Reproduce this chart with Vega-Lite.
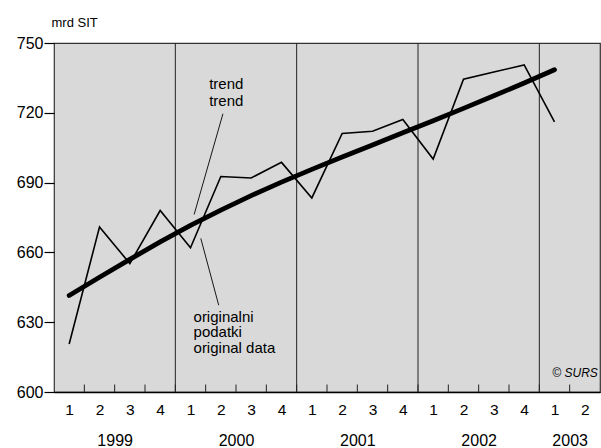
{
  "$schema": "https://vega.github.io/schema/vega-lite/v6.json",
  "width": 546,
  "height": 349,
  "autosize": "none",
  "padding": {"left": 54, "top": 43, "right": 1, "bottom": 56},
  "config": {
    "view": {"fill": "#d9d9d9", "stroke": "#333333", "strokeWidth": 1.2},
    "font": "Liberation Sans"
  },
  "datasets": {
    "series": [
      {"t": 0.5, "orig": 620.6, "trend": 641.5},
      {"t": 1.5, "orig": 670.9, "trend": 649.3},
      {"t": 2.5, "orig": 655.2, "trend": 657.0},
      {"t": 3.5, "orig": 678.0, "trend": 664.5},
      {"t": 4.5, "orig": 662.0, "trend": 671.6},
      {"t": 5.5, "orig": 692.6, "trend": 678.2},
      {"t": 6.5, "orig": 692.0, "trend": 684.4},
      {"t": 7.5, "orig": 698.7, "trend": 690.2},
      {"t": 8.5, "orig": 683.4, "trend": 695.7},
      {"t": 9.5, "orig": 711.1, "trend": 701.0},
      {"t": 10.5, "orig": 712.1, "trend": 706.2},
      {"t": 11.5, "orig": 717.1, "trend": 711.4},
      {"t": 12.5, "orig": 700.1, "trend": 716.6},
      {"t": 13.5, "orig": 734.4, "trend": 721.9},
      {"t": 14.5, "orig": 737.5, "trend": 727.3},
      {"t": 15.5, "orig": 740.6, "trend": 732.8},
      {"t": 16.5, "orig": 716.1, "trend": 738.5}
    ],
    "years": [{"b": 4}, {"b": 8}, {"b": 12}, {"b": 16}],
    "ticks": [
      {"b": 1}, {"b": 2}, {"b": 3}, {"b": 4}, {"b": 5}, {"b": 6}, {"b": 7}, {"b": 8}, {"b": 9},
      {"b": 10}, {"b": 11}, {"b": 12}, {"b": 13}, {"b": 14}, {"b": 15}, {"b": 16}, {"b": 17}
    ],
    "leaders": [
      {"x1": 5.57, "y1": 719.6, "x2": 4.62, "y2": 676.3},
      {"x1": 4.84, "y1": 666.0, "x2": 5.43, "y2": 637.3}
    ],
    "trendLabels": [
      {"t": 5.68, "v": 732.4, "label": "trend"},
      {"t": 5.68, "v": 725.1, "label": "trend"}
    ],
    "origLabels": [
      {"t": 4.6, "v": 632.4, "label": "originalni"},
      {"t": 4.6, "v": 625.6, "label": "podatki"},
      {"t": 4.6, "v": 619.0, "label": "original data"}
    ],
    "credit": [{"t": 17.93, "v": 608, "label": "© SURS"}]
  },
  "layer": [
    {
      "data": {"name": "years"},
      "mark": {"type": "rule", "color": "#222222", "strokeWidth": 1},
      "encoding": {
        "x": {
          "field": "b", "type": "quantitative",
          "scale": {"domain": [0, 18], "nice": false, "zero": false},
          "axis": {
            "orient": "bottom", "title": null, "values": [2, 6, 10, 14, 17],
            "labelExpr": "'' + (1999 + floor(datum.value / 4))",
            "domain": false, "ticks": false, "grid": false,
            "labelPadding": 40, "labelFontSize": 16, "labelColor": "#000000",
            "labelFont": "Liberation Sans"
          }
        },
        "y": {"datum": 600, "type": "quantitative", "scale": {"domain": [600, 750], "nice": false, "zero": false}},
        "y2": {"datum": 750}
      }
    },
    {
      "data": {"name": "ticks"},
      "mark": {"type": "rule", "color": "#222222", "strokeWidth": 1},
      "encoding": {
        "x": {"field": "b", "type": "quantitative", "axis": null},
        "y": {"datum": 600, "type": "quantitative"},
        "y2": {"datum": 603.2}
      }
    },
    {
      "data": {"name": "series"},
      "mark": {"type": "line", "color": "#000000", "strokeWidth": 1.6},
      "encoding": {
        "x": {
          "field": "t", "type": "quantitative",
          "axis": {
            "orient": "bottom", "title": null,
            "values": [0.5, 1.5, 2.5, 3.5, 4.5, 5.5, 6.5, 7.5, 8.5, 9.5, 10.5, 11.5, 12.5, 13.5, 14.5, 15.5, 16.5, 17.5],
            "labelExpr": "'' + ((floor(datum.value) % 4) + 1)",
            "ticks": false, "grid": false, "domain": true, "domainColor": "#000000", "domainWidth": 1.5,
            "labelPadding": 10, "labelFontSize": 15.5, "labelColor": "#000000",
            "labelFont": "Liberation Sans"
          }
        },
        "y": {
          "field": "orig", "type": "quantitative",
          "axis": {
            "title": "mrd SIT", "titleAngle": 0, "titleAlign": "left", "titleBaseline": "alphabetic",
            "titleX": -3, "titleY": -17, "titleFontSize": 13, "titleFontWeight": "normal", "titleColor": "#000000",
            "values": [600, 630, 660, 690, 720, 750], "grid": false, "domain": false,
            "tickSize": 10, "tickColor": "#000000", "tickWidth": 1.2,
            "labelPadding": 1, "labelFontSize": 16, "labelColor": "#000000",
            "labelFont": "Liberation Sans"
          }
        }
      }
    },
    {
      "data": {"name": "series"},
      "mark": {"type": "line", "color": "#000000", "strokeWidth": 4.8, "strokeCap": "round"},
      "encoding": {
        "x": {"field": "t", "type": "quantitative", "axis": null},
        "y": {"field": "trend", "type": "quantitative"}
      }
    },
    {
      "data": {"name": "leaders"},
      "mark": {"type": "rule", "color": "#000000", "strokeWidth": 0.9},
      "encoding": {
        "x": {"field": "x1", "type": "quantitative", "axis": null},
        "y": {"field": "y1", "type": "quantitative"},
        "x2": {"field": "x2"},
        "y2": {"field": "y2"}
      }
    },
    {
      "data": {"name": "trendLabels"},
      "mark": {"type": "text", "fontSize": 15, "align": "center", "baseline": "middle", "color": "#000000", "font": "Liberation Sans"},
      "encoding": {
        "x": {"field": "t", "type": "quantitative", "axis": null},
        "y": {"field": "v", "type": "quantitative"},
        "text": {"field": "label"}
      }
    },
    {
      "data": {"name": "origLabels"},
      "mark": {"type": "text", "fontSize": 15, "align": "left", "baseline": "middle", "color": "#000000", "font": "Liberation Sans"},
      "encoding": {
        "x": {"field": "t", "type": "quantitative", "axis": null},
        "y": {"field": "v", "type": "quantitative"},
        "text": {"field": "label"}
      }
    },
    {
      "data": {"name": "credit"},
      "mark": {"type": "text", "fontSize": 12, "fontStyle": "italic", "align": "right", "baseline": "middle", "color": "#000000", "font": "Liberation Sans"},
      "encoding": {
        "x": {"field": "t", "type": "quantitative", "axis": null},
        "y": {"field": "v", "type": "quantitative"},
        "text": {"field": "label"}
      }
    }
  ],
  "resolve": {"axis": {"x": "independent"}}
}
